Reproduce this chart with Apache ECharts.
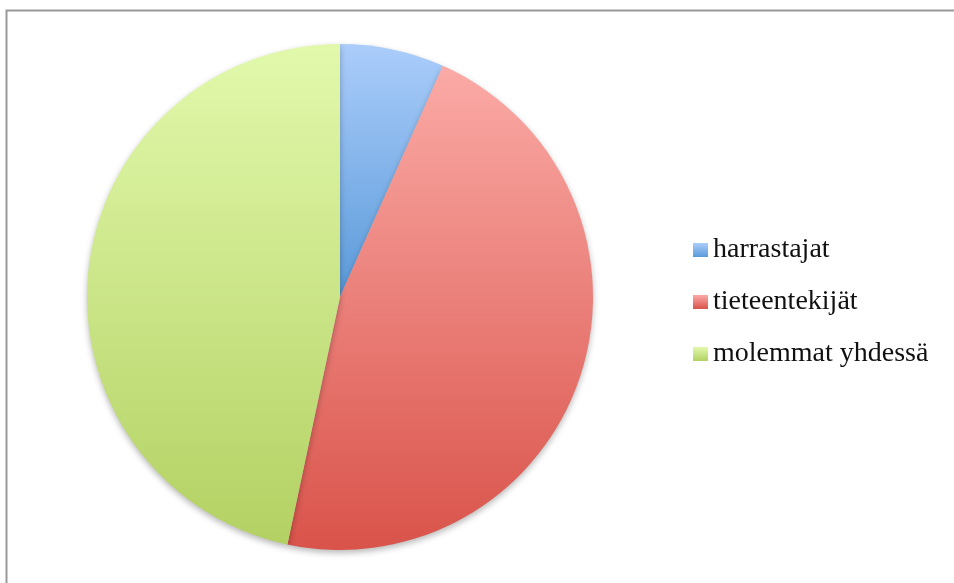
<!DOCTYPE html>
<html>
<head>
<meta charset="utf-8">
<script src="https://cdn.jsdelivr.net/npm/echarts@6/dist/echarts.min.js"></script>
<style>
html,body{margin:0;padding:0;background:#fff;}
#c{width:954px;height:583px;}
</style>
</head>
<body>
<div id="c"></div>
<script>
const categories = ['harrastajat', 'tieteentekijät', 'molemmat yhdessä'];
const values = [2, 14, 14];
const topColors = ['#abcdfb', '#fbaaa6', '#e2f9ac'];
const bottomColors = ['#5a9ad9', '#d9534a', '#b3d163'];

function grad(i) {
  return new echarts.graphic.LinearGradient(0, 0, 0, 1, [
    { offset: 0, color: topColors[i] },
    { offset: 1, color: bottomColors[i] }
  ]);
}

const chart = echarts.init(document.getElementById('c'), null, { renderer: 'canvas' });
chart.setOption({
  animation: false,
  backgroundColor: '#ffffff',
  graphic: [{
    type: 'rect',
    shape: { x: 6.5, y: 10.5, width: 1000, height: 1000 },
    style: { fill: 'none', stroke: '#999999', lineWidth: 2 },
    silent: true,
    z: -1
  }],
  legend: {
    orient: 'vertical',
    left: 688,
    top: 230,
    itemWidth: 15,
    itemHeight: 14,
    itemGap: 22,
    icon: 'rect',
    textStyle: {
      fontFamily: 'Liberation Serif',
      fontSize: 28,
      color: '#111',
      lineHeight: 30
    },
    data: categories
  },
  series: [{
    type: 'pie',
    center: [340, 297],
    radius: [0, 253],
    startAngle: 90,
    clockwise: true,
    label: { show: false },
    labelLine: { show: false },
    emphasis: { disabled: true },
    itemStyle: {
      borderWidth: 0,
      shadowBlur: 6,
      shadowOffsetY: 3,
      shadowColor: 'rgba(0,0,0,0.28)'
    },
    data: categories.map((n, i) => ({
      name: n,
      value: values[i],
      itemStyle: { color: grad(i) }
    }))
  }]
});
</script>
</body>
</html>
